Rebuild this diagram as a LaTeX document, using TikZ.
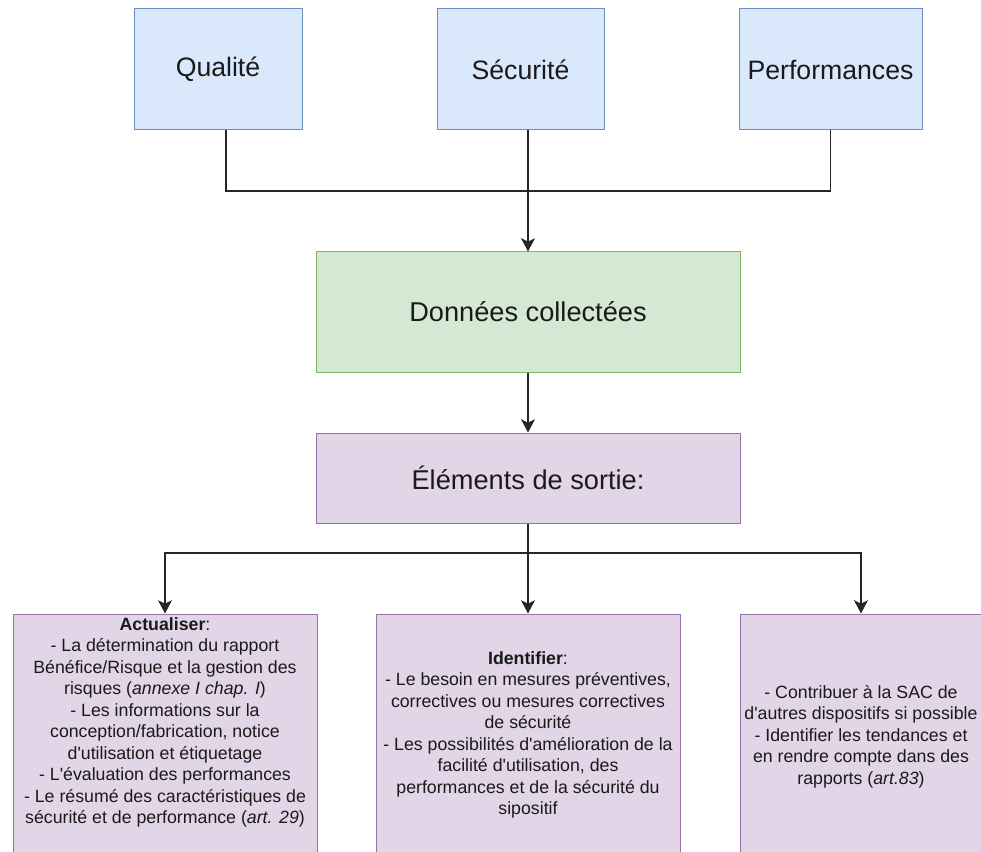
\documentclass[tikz,border=0pt]{standalone}
\usepackage{fontspec}
\newfontfamily\arialf{Liberation Sans}
\usetikzlibrary{arrows.meta}

\definecolor{bluefill}{HTML}{DAE8FC}
\definecolor{blueline}{HTML}{6C8EBF}
\definecolor{greenfill}{HTML}{D5E8D4}
\definecolor{greenline}{HTML}{82B366}
\definecolor{purplefill}{HTML}{E1D5E7}
\definecolor{purpleline}{HTML}{9673A6}
\definecolor{ink}{HTML}{1A1A1A}
\definecolor{wire}{HTML}{262626}

\begin{document}
\begin{tikzpicture}[x=0.75pt,y=-0.75pt,
  box/.style={rectangle, line width=0.75pt, inner sep=0pt, text=ink},
  topbox/.style={box, fill=bluefill, draw=blueline,
    font=\arialf\fontsize{20}{24}\selectfont, minimum height=90.75pt},
  databox/.style={box, fill=greenfill, draw=greenline,
    font=\arialf\fontsize{20.4}{24}\selectfont, minimum width=318pt, minimum height=90pt},
  outbox/.style={box, fill=purplefill, draw=purpleline,
    font=\arialf\fontsize{20.4}{24}\selectfont, minimum width=318pt, minimum height=67.5pt},
  leafbox/.style={box, fill=purplefill, draw=purpleline, minimum height=214.5pt},
  notes/.style={inner sep=0pt, align=center, text=ink, anchor=north,
    font=\arialf\fontsize{13.3}{16.1}\selectfont},
  wireline/.style={draw=wire, line width=0.9pt},
  flow/.style={wireline, -{Stealth[length=10pt,width=10.5pt,inset=2.6pt]}},
]
\useasboundingbox (0,0) rectangle (981,852);
\clip (0,0) rectangle (981,852);

% sources of the collected data
\node[topbox, minimum width=126pt] (qual) at (218,69.5) {Qualité};
\node[topbox, minimum width=125.25pt] (secu) at (520.5,69.5) {Sécurité};
\node[topbox, minimum width=137.25pt] (perf) at (830.5,69.5) {Performances};

% collected data and outputs
\node[databox] (data) at (528,312) {Données collectées};
\node[outbox] (sortie) at (528,478) {Éléments de sortie:};

% the three output boxes (open at the bottom)
\node[leafbox, minimum width=228pt] (left) at (165,757) {};
\node[leafbox, minimum width=228pt] (mid) at (528,757) {};
\node[leafbox, minimum width=181.5pt] (right) at (861,757) {};

\node[notes] (lefttext) at (165,615) {\strut\textbf{Actualiser}:\\
  - La détermination du rapport\\
  Bénéfice/Risque et la gestion des\\
  risques (\textit{annexe I chap. I})\\
  - Les informations sur la\\
  conception/fabrication, notice\\
  d'utilisation et étiquetage\\
  - L'évaluation des performances\\
  - Le résumé des caractéristiques de\\
  sécurité et de performance (\textit{art. 29})};

\node[notes] (midtext) at (528,649) {\strut\textbf{Identifier}:\\
  - Le besoin en mesures préventives,\\
  correctives ou mesures correctives\\
  de sécurité\\
  - Les possibilités d'amélioration de la\\
  facilité d'utilisation, des\\
  performances et de la sécurité du\\
  sipositif};

\node[notes] (righttext) at (861,683) {\strut- Contribuer à la SAC de\\
  d'autres dispositifs si possible\\
  - Identifier les tendances et\\
  en rendre compte dans des\\
  rapports (\textit{art.83})};

% connectors
\coordinate (hub) at (528,191);
\coordinate (split) at (528,553);

\draw[wireline] ([xshift=6pt]qual.south) |- (hub);
\draw[wireline] (perf.south) |- (hub);
\draw[flow] ([xshift=5.625pt]secu.south) -- (data.north);
\draw[flow] (data.south) -- (sortie.north);
\draw[wireline] (sortie.south) -- (split);
\draw[flow] (split) -| (left.north);
\draw[flow] (split) -- (mid.north);
\draw[flow] (split) -| (right.north);
\end{tikzpicture}
\end{document}
